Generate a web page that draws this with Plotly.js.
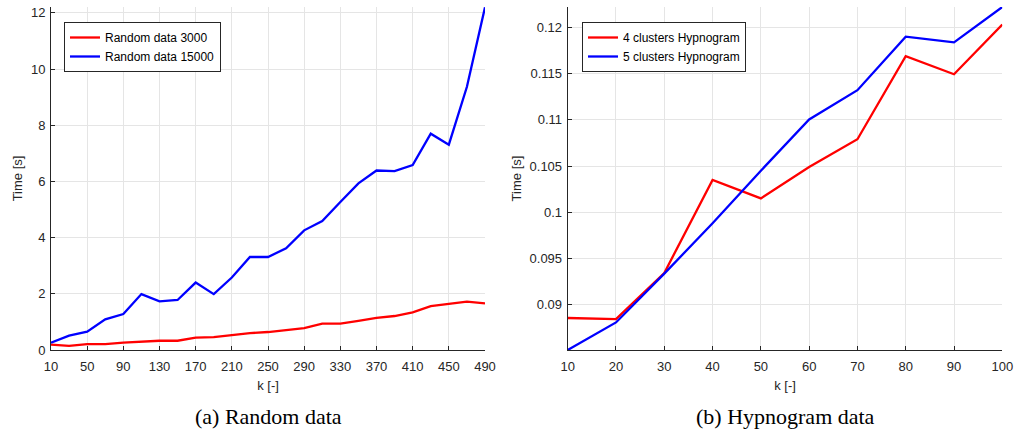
<!DOCTYPE html>
<html>
<head>
<meta charset="utf-8">
<script src="https://cdn.plot.ly/plotly-3.0.1.min.js"></script>
<style>html,body{margin:0;padding:0;background:#fff;}#chart{width:1014px;height:433px;}</style>
</head>
<body>
<div id="chart"></div>
<script>
// Left panel: random data
const kRandom = [10,30,50,70,90,110,130,150,170,190,210,230,250,270,290,310,330,350,370,390,410,430,450,470,490];
const random3000 = [0.19,0.15,0.21,0.21,0.26,0.30,0.33,0.33,0.44,0.46,0.54,0.60,0.64,0.72,0.78,0.94,0.94,1.04,1.14,1.21,1.34,1.56,1.65,1.72,1.66];
const random15000 = [0.26,0.51,0.65,1.09,1.28,1.99,1.73,1.78,2.40,1.99,2.58,3.31,3.31,3.62,4.26,4.59,5.27,5.93,6.39,6.37,6.58,7.70,7.31,9.37,12.2];
const kRandomTicks = [10,50,90,130,170,210,250,290,330,370,410,450,490];

// Right panel: hypnogram data
const kHyp = [10,20,30,40,50,60,70,80,90,100];
const hyp4 = [0.08856,0.08845,0.09343,0.1035,0.1015,0.1049,0.1079,0.11688,0.11493,0.12029];
const hyp5 = [0.0851,0.08808,0.09336,0.09881,0.10449,0.11004,0.1132,0.11899,0.11838,0.1222];
const hypYTicks = [0.09,0.095,0.1,0.105,0.11,0.115,0.12];
const hypYTickText = ['0.09','0.095','0.1','0.105','0.11','0.115','0.12'];

const captions = ['(a) Random data','(b) Hypnogram data'];
const axisTitleX = 'k [-]';
const axisTitleY = 'Time [s]';

const fontFam = 'Liberation Sans, Arial, sans-serif';
const textCol = '#262626';

const traces = [
  {x:kRandom, y:random3000, name:'Random data 3000', mode:'lines', line:{color:'#ff0000', width:2.3}, xaxis:'x', yaxis:'y', legend:'legend'},
  {x:kRandom, y:random15000, name:'Random data 15000', mode:'lines', line:{color:'#0000ff', width:2.3}, xaxis:'x', yaxis:'y', legend:'legend'},
  {x:kHyp, y:hyp4, name:'4 clusters Hypnogram', mode:'lines', line:{color:'#ff0000', width:2.3}, xaxis:'x2', yaxis:'y2', legend:'legend2'},
  {x:kHyp, y:hyp5, name:'5 clusters Hypnogram', mode:'lines', line:{color:'#0000ff', width:2.3}, xaxis:'x2', yaxis:'y2', legend:'legend2'}
];

const axCommon = {
  showline:true, linecolor:textCol, linewidth:1,
  ticks:'inside', ticklen:4, tickcolor:textCol,
  showgrid:true, gridcolor:'#e5e5e5', gridwidth:1,
  zeroline:false, mirror:false,
  tickfont:{family:fontFam, size:13, color:textCol}
};
const titleFont = {family:fontFam, size:13, color:textCol};
const yDom = [1-350/433, 1-7/433];

const layout = {
  width:1014, height:433,
  margin:{l:0, r:0, t:0, b:0},
  paper_bgcolor:'#fff', plot_bgcolor:'#fff',
  font:{family:fontFam, color:textCol},
  xaxis: Object.assign({}, axCommon, {domain:[51/1014, 485/1014], range:[10,490], tickvals:kRandomTicks, anchor:'y',
    ticklabelstandoff:4, title:{text:axisTitleX, font:titleFont, standoff:8}}),
  yaxis: Object.assign({}, axCommon, {domain:yDom, range:[0,12.21], dtick:2, tick0:0, anchor:'x',
    ticklabelstandoff:2, title:{text:axisTitleY, font:titleFont, standoff:5}}),
  xaxis2: Object.assign({}, axCommon, {domain:[567.7/1014, 1002.3/1014], range:[10,100], dtick:10, tick0:10, anchor:'y2',
    ticklabelstandoff:4, title:{text:axisTitleX, font:titleFont, standoff:8}}),
  yaxis2: Object.assign({}, axCommon, {domain:yDom, range:[0.0851,0.1222], tickvals:hypYTicks, ticktext:hypYTickText, anchor:'x2',
    ticklabelstandoff:2, title:{text:axisTitleY, font:titleFont, standoff:5}}),
  legend:{x:64/1014, y:1-22/433, xanchor:'left', yanchor:'top', bgcolor:'#fff', bordercolor:textCol, borderwidth:1,
    font:{family:fontFam, size:12, color:'#000'}, tracegroupgap:0, itemwidth:30},
  legend2:{x:582/1014, y:1-22/433, xanchor:'left', yanchor:'top', bgcolor:'#fff', bordercolor:textCol, borderwidth:1,
    font:{family:fontFam, size:12, color:'#000'}, tracegroupgap:0, itemwidth:30},
  showlegend:true,
  annotations:[
    {text:captions[0], xref:'paper', yref:'paper', x:(51+485)/2/1014, y:1-416/433, xanchor:'center', yanchor:'middle', showarrow:false,
      font:{family:'Liberation Serif, Times New Roman, serif', size:22, color:'#000'}},
    {text:captions[1], xref:'paper', yref:'paper', x:(567.7+1002.3)/2/1014, y:1-416/433, xanchor:'center', yanchor:'middle', showarrow:false,
      font:{family:'Liberation Serif, Times New Roman, serif', size:22, color:'#000'}}
  ]
};

Plotly.newPlot('chart', traces, layout, {staticPlot:true, displayModeBar:false});
</script>
</body>
</html>
